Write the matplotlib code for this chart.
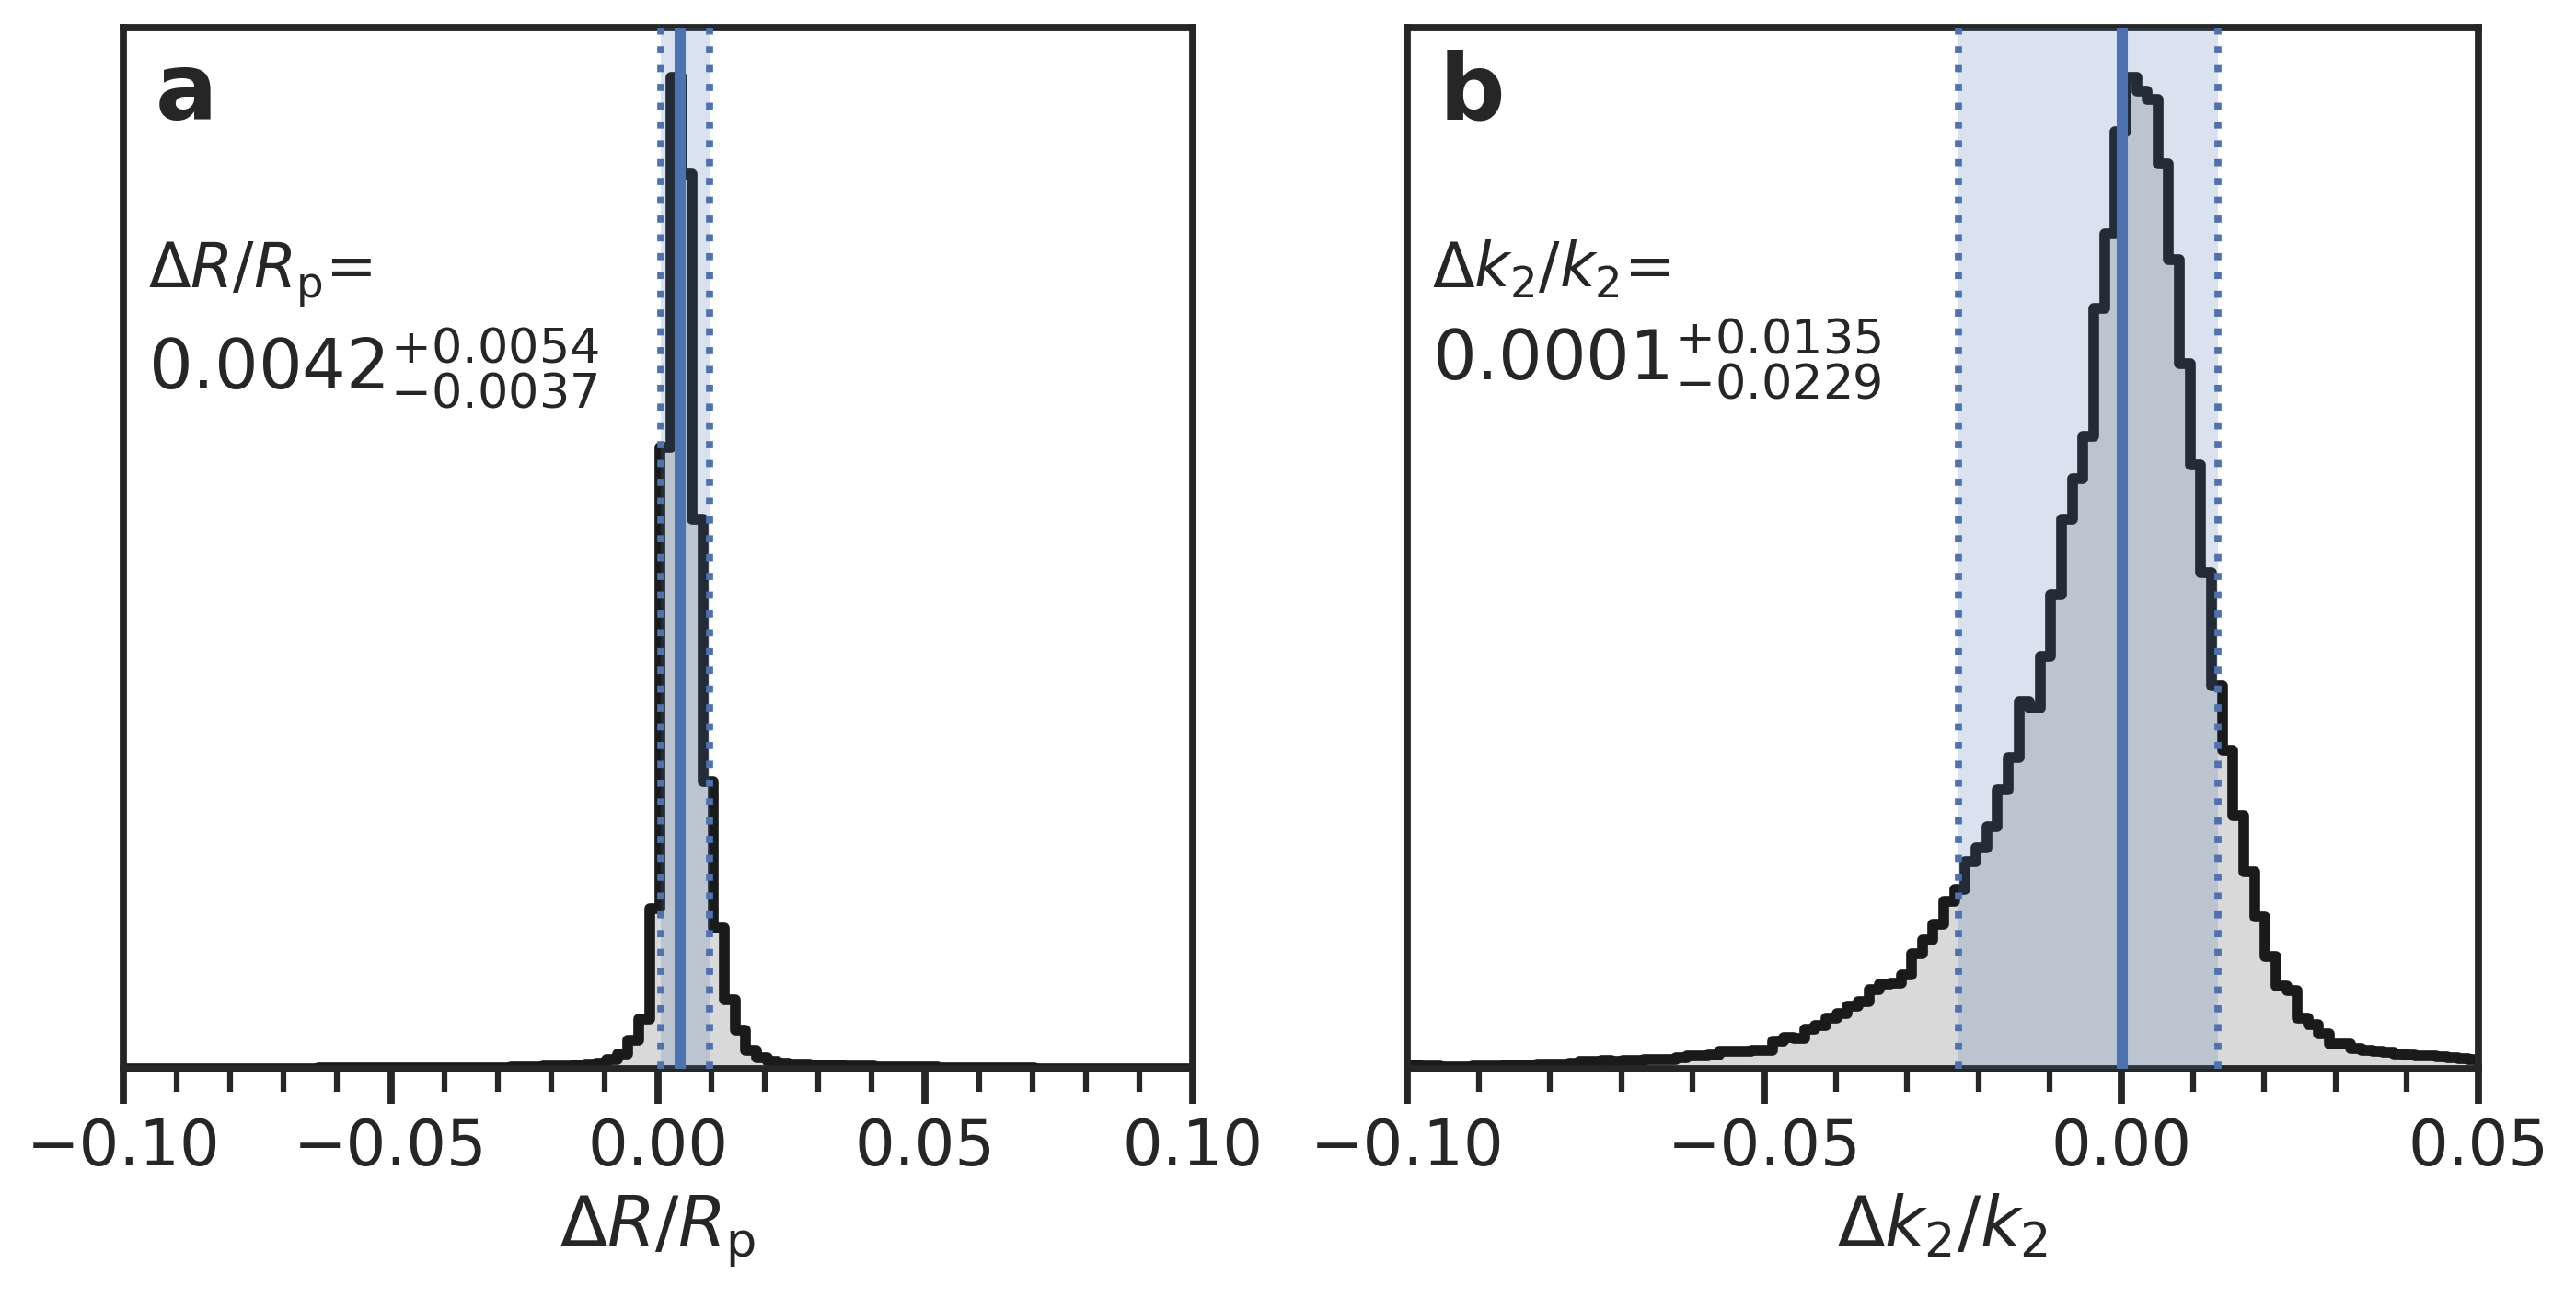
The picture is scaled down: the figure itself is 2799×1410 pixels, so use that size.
import numpy as np
import matplotlib
matplotlib.use('Agg')
import matplotlib.pyplot as plt
import seaborn as sns

# histogram of delta R / Rp (relative heights, bins of 0.002)
r_bin_start = -0.0996
r_bin_width = 0.002
r_counts = [0.02, 0.02, 0.02, 0.02, 0.02, 0.02, 0.02, 0.02, 0.03, 0.03, 0.03, 0.03, 0.03, 0.03, 0.04, 0.04, 0.04,
            0.04, 0.05, 0.05, 0.05, 0.06, 0.06, 0.06, 0.07, 0.07, 0.08, 0.08, 0.08, 0.09, 0.09, 0.1, 0.1,
            0.1, 0.12, 0.12, 0.15, 0.18, 0.2,
            0.25, 0.3, 0.3,
            0.35, 0.45, 0.55, 0.9, 1.5, 2.9, 5.0, 16.2,
            62.7, 100, 90.2, 55.4, 29.0, 14.2, 7.0, 3.9, 1.9, 1.1,
            0.75, 0.6, 0.5, 0.45, 0.4, 0.35, 0.35, 0.3, 0.3, 0.25,
            0.22, 0.2, 0.18, 0.16, 0.15, 0.14, 0.12, 0.12, 0.1, 0.1, 0.09, 0.08,
            0.06, 0.05, 0.05, 0.04, 0.04, 0.03, 0.03, 0.03, 0.03, 0.02, 0.02, 0.02, 0.02, 0.02, 0.02, 0.02, 0.02, 0.02]
r_median = 0.0042
r_err_hi = 0.0054
r_err_lo = 0.0037

# histogram of delta k2 / k2 (relative heights, bins of 0.0015)
k_bin_start = -0.09986
k_bin_width = 0.0015
k_counts = [0.35, 0.3, 0.25, 0.2, 0.2, 0.2, 0.25, 0.3, 0.3, 0.4, 0.4, 0.4, 0.45, 0.5, 0.5, 0.6, 0.7,
            0.7, 0.8, 0.7, 0.8, 0.8, 0.9, 0.9, 0.9, 1.1, 1.3, 1.3, 1.4, 1.8, 1.8, 1.8, 1.9,
            1.9, 2.8, 3.2, 3.1, 4.0, 4.4, 5.1, 5.6, 6.3, 6.8, 8.0, 8.5, 8.6, 9.5, 11.6, 13.0, 14.6,
            16.9, 18.1, 20.9, 22.3, 24.4, 28.1, 31.4, 37.0, 36.4, 41.6, 47.8, 55.4, 59.5, 63.8, 76.7, 84.2, 94.5,
            100, 98.6, 97.8, 91.3, 81.6, 71.1, 60.9, 50.0, 38.6, 32.1, 25.5, 19.9, 15.3, 11.3, 8.4, 7.9,
            5.1, 4.5, 3.5, 2.5, 2.5, 2.0, 1.9, 1.8, 1.7, 1.5, 1.4, 1.3, 1.3, 1.2, 1.1, 1.0, 0.9]
k_median = 0.0001
k_err_hi = 0.0135
k_err_lo = 0.0229

sns.set_theme(context='talk', style='ticks')

blue = '#4c72b0'

fig = plt.figure(figsize=(2799 / 300, 1410 / 300), dpi=300)
ax_a = fig.add_axes([0.0479, 0.1766, 0.4151, 0.8021])
ax_b = fig.add_axes([0.5463, 0.1766, 0.4158, 0.8021])


def draw_panel(ax, start, width, counts, med, hi, lo, xlim, xticks, letter, name, value_y):
    counts = np.array(counts)
    edges = start + width * np.arange(len(counts) + 1)
    ax.stairs(counts, edges, fill=True, color='0.85', zorder=1)
    ax.stairs(counts, edges, color='0.1', lw=2.8, joinstyle='round', capstyle='round', zorder=2)
    ax.axvspan(med - lo, med + hi, color=blue, alpha=0.2, lw=0, zorder=3)
    ax.axvline(med, color=blue, lw=2.9, zorder=4)
    ax.axvline(med - lo, color=blue, lw=1.85, ls=':', zorder=4)
    ax.axvline(med + hi, color=blue, lw=1.85, ls=':', zorder=4)

    ax.set_xlim(xlim)
    ax.set_xticks(xticks)
    ax.set_xticks(np.arange(xlim[0], xlim[1] + 1e-9, 0.01), minor=True)
    ax.set_yticks([])
    ax.set_xlabel(name)

    ax.text(0.03, 0.912, letter, transform=ax.transAxes, fontsize=24,
            fontweight='bold', ha='left', va='baseline')
    ax.text(0.023, 0.75, name + '=', transform=ax.transAxes, fontsize=16,
            ha='left', va='baseline')
    ax.text(0.023, value_y, r'$%.4f^{+%.4f}_{-%.4f}$' % (med, hi, lo),
            transform=ax.transAxes, fontsize=18, ha='left', va='baseline')


draw_panel(ax_a, r_bin_start, r_bin_width, r_counts, r_median, r_err_hi, r_err_lo,
           (-0.1, 0.1), [-0.1, -0.05, 0.0, 0.05, 0.1], 'a', r'$\Delta R/R_{\rm p}$', 0.6525)
draw_panel(ax_b, k_bin_start, k_bin_width, k_counts, k_median, k_err_hi, k_err_lo,
           (-0.1, 0.05), [-0.1, -0.05, 0.0, 0.05], 'b', r'$\Delta k_2/k_2$', 0.661)

fig.savefig('out.png', dpi=300)
